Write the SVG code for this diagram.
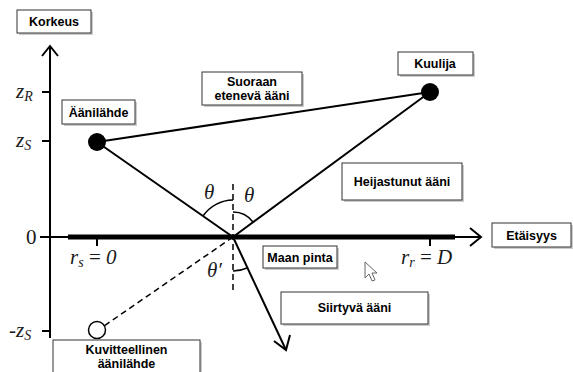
<svg xmlns="http://www.w3.org/2000/svg" width="573" height="372" viewBox="0 0 573 372">
<defs>
<style>
.box{fill:#fff;stroke:#333;stroke-width:1}
.shadow{fill:#ccc}
.lbl{font-family:"Liberation Sans",Arial,sans-serif;font-weight:bold;font-size:12.5px;fill:#000;text-anchor:middle}
.math{font-family:"Liberation Serif","Times New Roman",serif;font-style:italic;font-size:21px;fill:#1a1a1a}
.rm{font-style:normal}
.ax{stroke:#000;stroke-width:2;fill:none}
.ray{stroke:#000;stroke-width:2;fill:none}
.dash{stroke:#000;stroke-width:1.5;stroke-dasharray:6 4;fill:none}
.arc{stroke:#000;stroke-width:1.5;fill:none}
</style>
</defs>
<rect width="573" height="372" fill="#fff"/>

<g id="connectors">
  <line class="ax" x1="50" y1="338" x2="50" y2="46"/>
  <polyline class="ax" points="42,56 50,46 58,56"/>
  <line class="ax" x1="42" y1="92" x2="50" y2="92" stroke-width="1.5"/>
  <line class="ax" x1="42" y1="141" x2="50" y2="141" stroke-width="1.5"/>
  <line class="ax" x1="40" y1="237" x2="50" y2="237" stroke-width="1.5"/>
  <line class="ax" x1="42" y1="331" x2="50" y2="331" stroke-width="1.5"/>
  <line class="ax" x1="40" y1="237" x2="481" y2="237"/>
  <line stroke="#000" stroke-width="5" x1="68" y1="237" x2="455" y2="237"/>
  <polyline class="ax" points="470,228 481,237 470,246"/>
  <line class="ax" x1="97" y1="237" x2="97" y2="246" stroke-width="1.5"/>
  <line class="ax" x1="430" y1="237" x2="430" y2="246" stroke-width="1.5"/>
  <line class="dash" x1="233" y1="184" x2="233" y2="290"/>
  <line class="ray" x1="97" y1="142" x2="430" y2="92"/>
  <line class="ray" x1="97" y1="142" x2="233" y2="237"/>
  <line class="ray" x1="233" y1="237" x2="430" y2="92"/>
  <line class="dash" x1="233" y1="237" x2="104" y2="326"/>
  <line class="ray" x1="233" y1="237" x2="286" y2="350"/>
  <polyline class="ray" points="274,341 286,350 290,335"/>
  <path class="arc" d="M233,200 A37,37 0 0 0 203,216"/>
  <path class="arc" d="M233,212 A25,25 0 0 1 253,222"/>
  <path class="arc" d="M233,271 A34,34 0 0 0 247,268"/>
</g>

<g id="node-source"><circle cx="97" cy="142" r="9" fill="#000"/></g>
<g id="node-listener"><circle cx="430" cy="92" r="9" fill="#000"/></g>
<g id="node-image"><circle cx="97" cy="330" r="8.5" fill="#fff" stroke="#000" stroke-width="1.5"/></g>

<g id="math-labels">
  <text class="math" x="16" y="98">z<tspan font-size="14" dy="3">R</tspan></text>
  <text class="math" x="16" y="147">z<tspan font-size="14" dy="3">S</tspan></text>
  <text class="math rm" x="26" y="244">0</text>
  <text class="math" x="9" y="337"><tspan class="rm">-</tspan>z<tspan font-size="14" dy="3">S</tspan></text>
  <text class="math" x="70" y="264">r<tspan font-size="14" dy="3">s</tspan><tspan dy="-3" class="rm"> = </tspan>0</text>
  <text class="math" x="401" y="264">r<tspan font-size="14" dy="3">r</tspan><tspan dy="-3" class="rm"> = </tspan>D</text>
  <text class="math" x="204" y="199">θ</text>
  <text class="math" x="244" y="202">θ</text>
  <text class="math" x="207" y="277">θ′</text>
</g>

<g id="box-korkeus"><rect class="shadow" x="19" y="12" width="74" height="23"/><rect class="box" x="17" y="10" width="74" height="23"/><text class="lbl" x="54" y="26">Korkeus</text></g>
<g id="box-aanilahde"><rect class="shadow" x="64" y="102" width="73" height="24"/><rect class="box" x="62" y="100" width="73" height="24"/><text class="lbl" x="98.5" y="117">Äänilähde</text></g>
<g id="box-suoraan"><rect class="shadow" x="204" y="74" width="100" height="33"/><rect class="box" x="202" y="72" width="100" height="33"/><text class="lbl" x="252" y="86" font-size="11.5">Suoraan</text><text class="lbl" x="252" y="100" font-size="11.5">etenevä ääni</text></g>
<g id="box-kuulija"><rect class="shadow" x="400" y="54" width="75" height="23"/><rect class="box" x="398" y="52" width="75" height="23"/><text class="lbl" x="435" y="68">Kuulija</text></g>
<g id="box-heijastunut"><rect class="shadow" x="344" y="165" width="120" height="37"/><rect class="box" x="342" y="163" width="120" height="37"/><text class="lbl" x="402" y="186">Heijastunut ääni</text></g>
<g id="box-maan"><rect class="shadow" x="265" y="248" width="74" height="22"/><rect class="box" x="263" y="246" width="74" height="22"/><text class="lbl" x="300" y="261.5" font-size="11.5">Maan pinta</text></g>
<g id="box-etaisyys"><rect class="shadow" x="494" y="225" width="79" height="24"/><rect class="box" x="492" y="223" width="79" height="24"/><text class="lbl" x="531.5" y="240">Etäisyys</text></g>
<g id="box-siirtyva"><rect class="shadow" x="283" y="294" width="147" height="32"/><rect class="box" x="281" y="292" width="147" height="32"/><text class="lbl" x="354.5" y="312">Siirtyvä ääni</text></g>
<g id="box-kuvitteellinen"><rect class="shadow" x="55" y="342" width="147" height="40"/><rect class="box" x="53" y="340" width="147" height="40"/><text class="lbl" x="126.5" y="354" font-size="11.5">Kuvitteellinen</text><text class="lbl" x="126.5" y="368" font-size="11.5">äänilähde</text></g>

<g id="cursor"><path d="M365,262 L365,278 L369,274 L372,281 L375,280 L372,273 L377,273 Z" fill="#fff" stroke="#666" stroke-width="1"/></g>
</svg>
